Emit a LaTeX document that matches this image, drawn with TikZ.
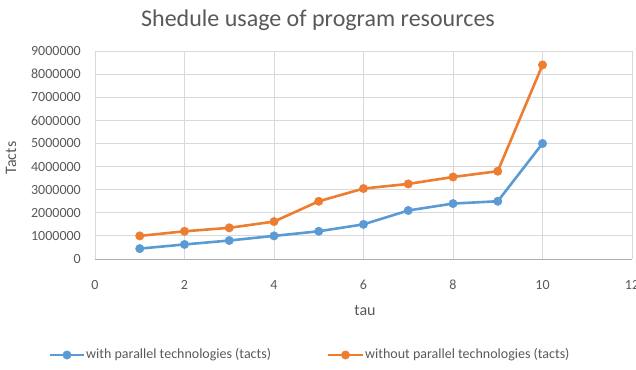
\documentclass[tikz,border=0pt]{standalone}
\usepackage{fontspec}
\setmainfont{Carlito}
\definecolor{serA}{HTML}{5B9BD5}
\definecolor{serB}{HTML}{ED7D31}
\definecolor{gridc}{HTML}{D9D9D9}
\definecolor{txt}{HTML}{595959}
\begin{document}
\begin{tikzpicture}[x=1pt,y=-1pt,
  gridline/.style={gridc, line width=0.9pt},
  ticklab/.style={font=\fontsize{14}{16}\selectfont, text=txt, inner sep=0pt},
  axtitle/.style={font=\fontsize{16}{18}\selectfont, text=txt, inner sep=0pt},
  serline/.style={line width=2.6pt, line join=round, line cap=round},
  dot/.style={circle, fill=#1, draw=#1, inner sep=0pt, minimum size=8.5pt},
  legline/.style={line width=2.6pt, #1}]
\useasboundingbox (0,0) rectangle (636,369);
% plot frame: x = 95 + 44.75*t, y = 259 - 23.1*v(millions)
\foreach \i in {1,...,9}
  \draw[gridline] (95,{259-23.1*\i}) -- (632,{259-23.1*\i});
\foreach \i in {0,...,6}
  \draw[gridline] ({95+89.5*\i},259) -- ({95+89.5*\i},51.1);
\draw[gridc!80!black, line width=1pt] (95,259) -- (632,259);
% axis tick labels
\foreach \i/\lab in {0/0,1/1000000,2/2000000,3/3000000,4/4000000,5/5000000,6/6000000,7/7000000,8/8000000,9/9000000}
  \node[ticklab, anchor=east] (y\i) at (81,{259-23.1*\i}) {\lab};
\foreach \i/\lab in {0/0,1/2,2/4,3/6,4/8,5/10,6/12}
  \node[ticklab, anchor=center] (x\i) at ({95+89.5*\i},285) {\lab};
% titles
\node[font=\fontsize{24}{28}\selectfont, text=txt] (title) at (318,20) {Shedule usage of program resources};
\node[axtitle, rotate=90] (ytitle) at (11,158) {Tacts};
\node[axtitle] (xtitle) at (365,310) {tau};
% data series
\foreach \t/\v [count=\k] in {1/1.0,2/1.2,3/1.35,4/1.62,5/2.5,6/3.05,7/3.25,8/3.55,9/3.8,10/8.4}
  \coordinate (b\k) at ({95+44.75*\t},{259-23.1*\v});
\foreach \t/\v [count=\k] in {1/0.45,2/0.63,3/0.8,4/1.0,5/1.2,6/1.5,7/2.1,8/2.4,9/2.5,10/5.0}
  \coordinate (a\k) at ({95+44.75*\t},{259-23.1*\v});
\draw[serline, serB] (b1) \foreach \k in {2,...,10}{ -- (b\k)};
\draw[serline, serA] (a1) \foreach \k in {2,...,10}{ -- (a\k)};
\foreach \k in {1,...,10}{
  \node[dot=serB] at (b\k) {};
  \node[dot=serA] at (a\k) {};
}
% legend
\coordinate (la0) at (50,355);
\coordinate (la1) at (84,355);
\draw[legline=serA] (la0) -- (la1);
\node[dot=serA] (lam) at (67,355) {};
\node[ticklab, anchor=west] (lat) at (86,355) {with parallel technologies (tacts)};
\coordinate (lb0) at (328,355);
\coordinate (lb1) at (363,355);
\draw[legline=serB] (lb0) -- (lb1);
\node[dot=serB] (lbm) at (345.5,355) {};
\node[ticklab, anchor=west] (lbt) at (365,355) {without parallel technologies (tacts)};
\end{tikzpicture}
\end{document}
